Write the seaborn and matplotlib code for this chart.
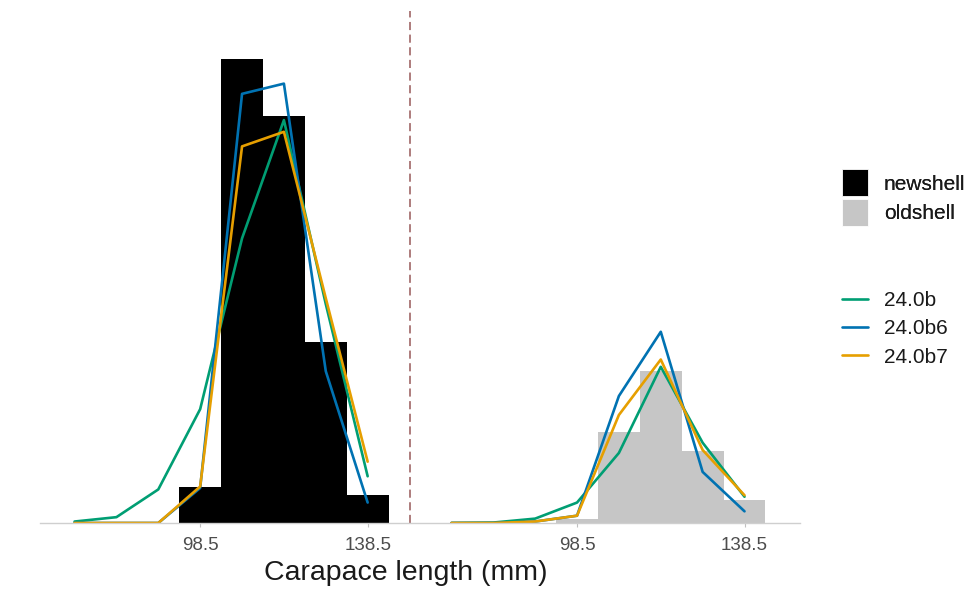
import numpy as np
import pandas as pd
import matplotlib
matplotlib.use("Agg")
import matplotlib.pyplot as plt
import seaborn as sns
from matplotlib.patches import Patch
from matplotlib.lines import Line2D

# Size-bin midpoints (mm)
length_bins = [68.5, 78.5, 88.5, 98.5, 108.5, 118.5, 128.5, 138.5]
obs_bins = [98.5, 108.5, 118.5, 128.5, 138.5]

# Observed size composition (proportions)
newshell_obs = [0.025, 0.318, 0.279, 0.124, 0.019]
oldshell_obs = [0.003, 0.062, 0.104, 0.049, 0.016]

# Model fits, new-shell crabs
fit_b_new = [0.001, 0.004, 0.023, 0.078, 0.195, 0.276, 0.150, 0.032]
fit_b6_new = [0.0, 0.0, 0.0, 0.024, 0.294, 0.301, 0.104, 0.014]
fit_b7_new = [0.0, 0.0, 0.0, 0.025, 0.258, 0.268, 0.154, 0.042]

# Model fits, old-shell crabs
fit_b_old = [0.0, 0.0003, 0.003, 0.014, 0.048, 0.107, 0.055, 0.018]
fit_b6_old = [0.0, 0.0, 0.001, 0.005, 0.087, 0.131, 0.035, 0.008]
fit_b7_old = [0.0, 0.0, 0.001, 0.005, 0.074, 0.112, 0.050, 0.019]

shells = ["newshell", "oldshell"]
models = ["24.0b", "24.0b6", "24.0b7"]
tick_values = [98.5, 138.5]

shell_colors = {"newshell": "#000000", "oldshell": "#c6c6c6"}
model_colors = {"24.0b": "#009E73", "24.0b6": "#0072B2", "24.0b7": "#E69F00"}

# old-shell panel is drawn to the right of the new-shell panel on one axis
shell_offset = {"newshell": 0.0, "oldshell": 90.0}
bin_width = 10.0

bars = pd.DataFrame({
    "pos": [b + shell_offset["newshell"] for b in obs_bins]
           + [b + shell_offset["oldshell"] for b in obs_bins],
    "prop": newshell_obs + oldshell_obs,
    "shell": ["newshell"] * len(obs_bins) + ["oldshell"] * len(obs_bins),
})

fits = {
    ("newshell", "24.0b"): fit_b_new, ("newshell", "24.0b6"): fit_b6_new,
    ("newshell", "24.0b7"): fit_b7_new, ("oldshell", "24.0b"): fit_b_old,
    ("oldshell", "24.0b6"): fit_b6_old, ("oldshell", "24.0b7"): fit_b7_old,
}
rows = []
for (shell, model), vals in fits.items():
    for b, v in zip(length_bins, vals):
        rows.append({"pos": b + shell_offset[shell], "prop": v,
                     "shell": shell, "model": model})
lines = pd.DataFrame(rows)

sns.set_theme(style="white")
plt.rcParams["font.family"] = ["Liberation Sans", "DejaVu Sans"]

fig = plt.figure(figsize=(9.74, 5.92), dpi=100)
ax = fig.add_axes([40 / 974, 69 / 592, 760 / 974, 512 / 592])

lo = min(length_bins)
hi = max(obs_bins) + bin_width / 2 + shell_offset["oldshell"]
edges = [float(e) for e in
         np.arange(min(obs_bins) - bin_width / 2, hi + bin_width / 2, bin_width)]

sns.histplot(data=bars, x="pos", weights="prop", hue="shell", bins=edges,
             hue_order=shells, palette=shell_colors, multiple="layer",
             alpha=1, linewidth=0, legend=False, ax=ax)

sns.lineplot(data=lines, x="pos", y="prop", hue="model", units="shell",
             estimator=None, hue_order=models, palette=model_colors,
             linewidth=1.9, legend=False, sort=True, ax=ax)

divider = max(obs_bins) + bin_width
ax.axvline(divider, color="#a77272", lw=1.3, ls=(0, (4.5, 2.5)), zorder=0)

pad = 0.05 * (hi - lo)
ax.set_xlim(lo - pad, hi + pad)
ymax = max(newshell_obs + oldshell_obs)
ax.set_ylim(0, ymax * 1.103)

ticks = [t + shell_offset[s] for s in shells for t in tick_values]
ax.set_xticks(ticks)
ax.set_xticklabels([f"{t:g}" for s in shells for t in tick_values])
ax.set_yticks([])
ax.set_xlabel("")
ax.set_ylabel("")
ax.tick_params(axis="x", bottom=True, length=3, width=0.8, color="#c0c0c0",
               labelsize=13.5, labelcolor="#4d4d4d", pad=7)
for side in ["top", "left", "right"]:
    ax.spines[side].set_visible(False)
ax.spines["bottom"].set_color("#cfcfcf")
ax.spines["bottom"].set_linewidth(1.0)

fig.text(406 / 974, 1 - 573 / 592, "Carapace length (mm)", ha="center",
         va="center", fontsize=20.5, color="#1a1a1a")

shell_handles = [Patch(facecolor=shell_colors[s], edgecolor="white", lw=0.6)
                 for s in shells]
leg1 = fig.legend(shell_handles, shells, loc="upper left",
                  bbox_to_anchor=(842 / 974, 1 - 169 / 592), frameon=False,
                  fontsize=15, handlelength=1.25, handleheight=1.65,
                  handletextpad=0.75, labelspacing=0.12, borderpad=0,
                  borderaxespad=0, labelcolor="#1a1a1a")

model_handles = [Line2D([0], [0], color=model_colors[m], lw=1.9) for m in models]
leg2 = fig.legend(model_handles, models, loc="upper left",
                  bbox_to_anchor=(842 / 974, 1 - 291 / 592), frameon=False,
                  fontsize=15, handlelength=1.25, handletextpad=0.75,
                  labelspacing=0.45, borderpad=0, borderaxespad=0,
                  labelcolor="#1a1a1a")
fig.add_artist(leg1)

fig.savefig("out.png", dpi=100, facecolor="white")
